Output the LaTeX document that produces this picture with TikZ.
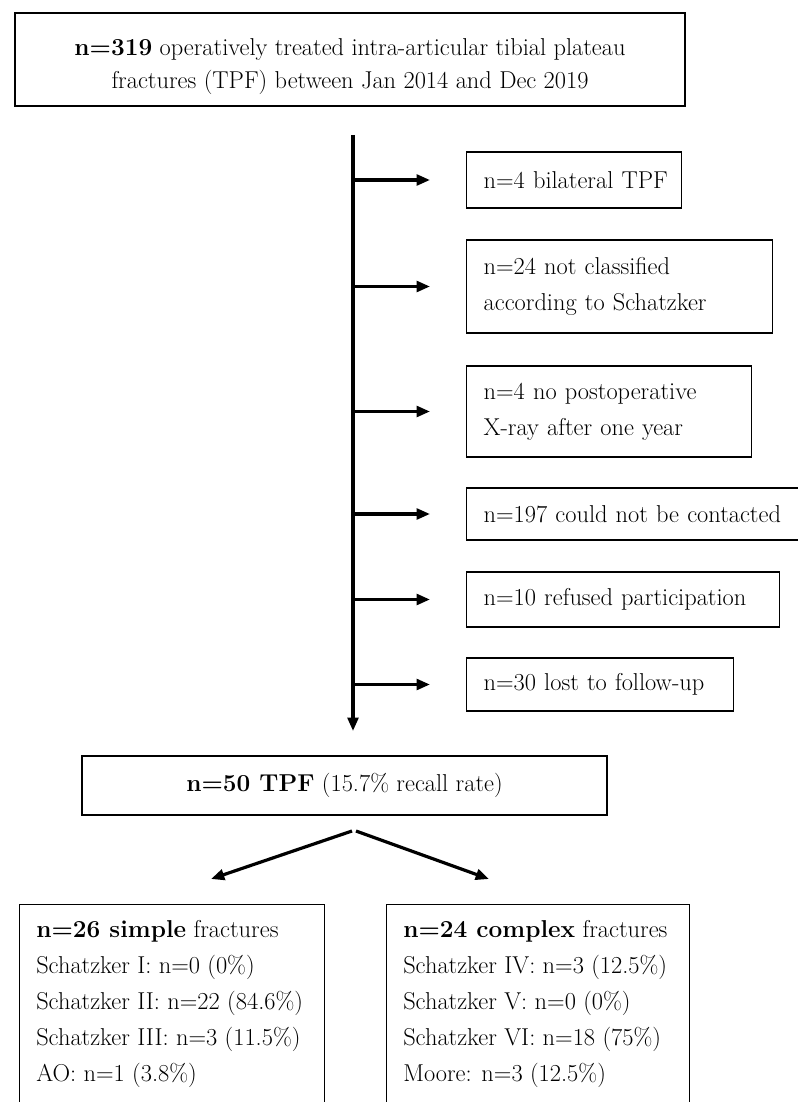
\documentclass[tikz,border=0pt]{standalone}
\usetikzlibrary{arrows.meta}
\begin{document}
\begin{tikzpicture}[x=0.75pt,y=-0.75pt,
  txt/.style={font=\fontsize{18.3}{27}\selectfont},
  frame/.style={draw, line width=1pt, rectangle},
  sidebox/.style={frame, txt, inner xsep=12.75pt, inner ysep=0pt, align=left, anchor=west},
  arr/.style={line width=2.4pt, -{Triangle[length=10pt,width=8pt]}},
  side/.style={arr, shorten >=27pt}]
\useasboundingbox (0,0) rectangle (798,1102);

% top box
\node[frame, minimum width=502.5pt, minimum height=69.75pt, align=center,
      font=\fontsize{18.3}{24.75}\selectfont] (top) at (350,59.5)
  {\rule{0pt}{23pt}\textbf{n=319} operatively treated intra-articular tibial plateau\\
   fractures (TPF) between Jan 2014 and Dec 2019};

% side boxes
\node[sidebox, text width=135.75pt, minimum height=42pt] (b1) at (466,180)
  {\mbox{n=4 bilateral TPF}};
\node[sidebox, text width=204pt, minimum height=69.75pt] (b2) at (466,286.5)
  {\mbox{n=24 not classified}\\\mbox{according to Schatzker}};
\node[sidebox, text width=188.25pt, minimum height=68.25pt] (b3) at (466,411.5)
  {\mbox{n=4 no postoperative}\\\mbox{X-ray after one year}};
\node[sidebox, text width=237pt, minimum height=39pt] (b4) at (466,514)
  {\mbox{n=197 could not be contacted}};
\node[sidebox, text width=209.25pt, minimum height=41.25pt] (b5) at (466,599.5)
  {\mbox{n=10 refused participation}};
\node[sidebox, text width=174.75pt, minimum height=39.75pt] (b6) at (466,684.5)
  {\mbox{n=30 lost to follow-up}};

% main vertical flow
\coordinate (vtop) at (353,135);
\coordinate (vbot) at (353,731);
\draw[arr] (vtop) -- (vbot);
\foreach \i in {1,...,6} {
  \coordinate (v\i) at (vtop |- b\i.west);
  \draw[side] (v\i) -- (b\i.west);
}

% n=50 box
\node[frame, txt, minimum width=393.75pt, minimum height=44.25pt] (n50) at (344.5,785.5)
  {\textbf{n=50 TPF} (15.7\% recall rate)};

% split arrows
\coordinate (apL) at (352,831);
\coordinate (apR) at (356,831);
\coordinate (tipL) at (211,879);
\coordinate (tipR) at (489,879);
\draw[arr] (apL) -- (tipL);
\draw[arr] (apR) -- (tipR);

% bottom boxes
\node[frame, minimum width=228.75pt, minimum height=240pt, anchor=north west, inner sep=0pt] (L) at (19,904) {};
\node[frame, minimum width=227.25pt, minimum height=240pt, anchor=north west, inner sep=0pt] (R) at (386,904) {};
\node[txt, anchor=north west, align=left, inner sep=0pt] (Lt) at (36,920)
  {\textbf{n=26 simple} fractures\\
   Schatzker I: n=0 (0\%)\\
   Schatzker II: n=22 (84.6\%)\\
   Schatzker III: n=3 (11.5\%)\\
   AO: n=1 (3.8\%)};
\node[txt, anchor=north west, align=left, inner sep=0pt] (Rt) at (403,920)
  {\textbf{n=24 complex} fractures\\
   Schatzker IV: n=3 (12.5\%)\\
   Schatzker V: n=0 (0\%)\\
   Schatzker VI: n=18 (75\%)\\
   Moore: n=3 (12.5\%)};
\end{tikzpicture}
\end{document}
